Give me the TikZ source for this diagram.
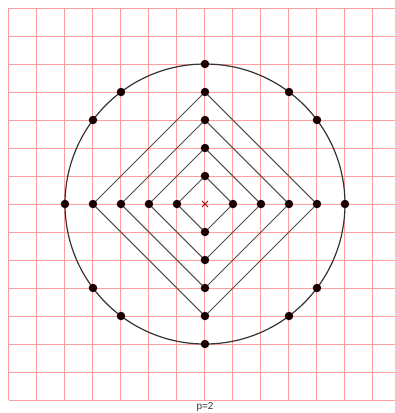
\documentclass[tikz,border=0pt]{standalone}
\usepackage{fontspec}
\setmainfont{Liberation Sans}
\begin{document}
\begin{tikzpicture}[x=28pt,y=28pt,
  gridline/.style={draw=red!38!white,line width=1pt},
  diamondline/.style={draw=black!70,line width=1.05pt},
  circleline/.style={draw=black!80,line width=1.2pt},
  latticedot/.style={circle,fill=black!90!red,inner sep=0pt,minimum size=8.5pt},
  centermark/.style={draw=red!60!black,line width=0.8pt}]
\useasboundingbox (-7.321,-7.464) rectangle (6.786,7.286);
\clip (-7.321,-7.464) rectangle (6.786,7.286);
% grid
\foreach \i in {-7,...,6} \draw[gridline] (\i,-7) -- (\i,7);
\foreach \j in {-7,...,7} \draw[gridline] (-7,\j) -- (6.8,\j);
% diamonds
\foreach \r in {1,2,3,4} \draw[diamondline] (\r,0) -- (0,\r) -- (-\r,0) -- (0,-\r) -- cycle;
% circle
\coordinate (o) at (0,0);
\draw[circleline] (o) circle (5);
% dots
\foreach \r in {1,...,5} {
  \node[latticedot] (r\r) at (\r,0) {};
  \node[latticedot] (l\r) at (-\r,0) {};
  \node[latticedot] (u\r) at (0,\r) {};
  \node[latticedot] (d\r) at (0,-\r) {};
}
\foreach \a/\b [count=\k] in {3/4,4/3,-3/4,-4/3,3/-4,4/-3,-3/-4,-4/-3}
  \node[latticedot] (c\k) at (\a,\b) {};
% center mark
\draw[centermark] (-0.11,-0.11) -- (0.11,0.11) (-0.11,0.11) -- (0.11,-0.11);
% label
\node[anchor=south,font=\fontsize{10}{12}\selectfont,inner sep=0pt,text=black!80] (lab) at (0,-7.43) {p=2};
\end{tikzpicture}
\end{document}
